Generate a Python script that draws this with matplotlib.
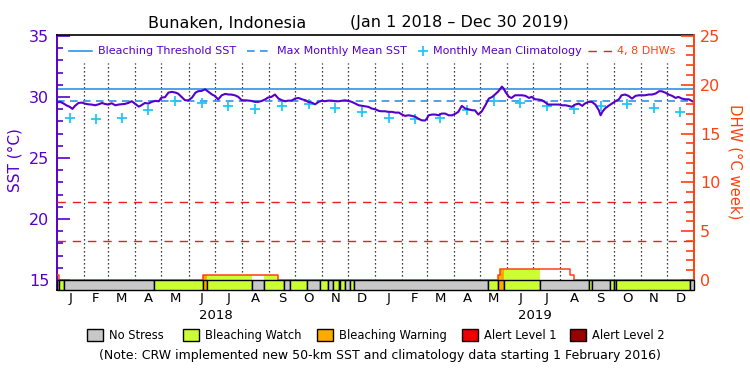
import datetime as dt
import calendar
import matplotlib
matplotlib.use("Agg")
import matplotlib.pyplot as plt
import matplotlib.dates as mdates
from matplotlib.patches import Rectangle
from matplotlib.lines import Line2D
from matplotlib.ticker import FixedLocator
import matplotlib.transforms as mtransforms

# ---------------- data ----------------
title_site = "Bunaken, Indonesia"
title_period = "(Jan 1 2018 \u2013 Dec 30 2019)"

# daily SST (sampled) : day offset from 1 Jan 2018, value in deg C
sst_day = [0, 4, 8, 11, 15, 18, 21, 25, 29, 32, 36, 40, 44, 48, 52, 55, 59, 63, 67, 71,
           74, 78, 82, 86, 90, 94, 97, 101, 105, 109, 113, 117, 120, 124, 128, 132, 136, 139,
           143, 147, 151, 155, 159, 162, 166, 170, 174, 178, 181, 185,
           189, 193, 197, 200, 204, 208, 212, 216, 220, 223, 227, 231, 235, 239, 242, 246,
           250, 254, 258, 262, 265, 269, 273, 277, 281, 285, 288, 292, 296, 300, 304, 307,
           311, 315, 319, 323, 327, 330, 334, 338, 342, 346, 350, 353, 357, 361, 365, 369,
           372, 376, 380, 384, 388, 392, 395, 399, 403, 407, 411, 414, 418, 422, 424, 426,
           430, 434, 437, 441, 445, 449, 453, 457, 460, 464, 468, 472, 476, 479, 483, 487,
           491, 495, 499, 502, 506, 510, 512, 514, 518, 521, 525, 529, 533, 537, 541, 544,
           548, 552, 556, 560, 563, 567, 571, 575, 579, 583, 586, 590, 594, 598, 602, 605,
           609, 613, 617, 621, 623, 625, 628, 632, 636, 640, 644, 647, 651, 655, 659, 663,
           667, 670, 674, 678, 682, 686, 690, 693, 697, 701, 705, 709, 712, 716, 720, 724, 728]
sst_val = [29.54, 29.60, 29.46, 29.32, 29.19, 29.02, 29.27, 29.51, 29.54, 29.46, 29.40, 29.38,
           29.32, 29.40, 29.51, 29.43, 29.38, 29.49, 29.32, 29.38, 29.40, 29.43, 29.51, 29.65,
           29.43, 29.21, 29.32, 29.51, 29.46, 29.60, 29.68, 29.65, 29.95, 29.98, 30.36, 30.42,
           30.36, 30.28, 30.01, 29.73, 29.73, 29.95, 30.36, 30.47, 30.50, 30.63, 30.42, 30.20,
           30.09, 29.80,
           30.14, 30.25, 30.20, 30.20, 30.14, 30.01, 29.73, 29.73, 29.70, 29.68, 29.60, 29.60,
           29.68, 29.81, 29.95, 30.01, 30.20, 29.87, 29.73, 29.65, 29.70, 29.70, 29.87, 29.92,
           29.81, 29.73, 29.60, 29.54, 29.40, 29.60, 29.70, 29.65, 29.70, 29.70, 29.65, 29.65,
           29.70, 29.73, 29.68, 29.60, 29.46, 29.32, 29.27, 29.24, 29.19, 29.05, 28.99, 28.86,
           28.83, 28.83, 28.78, 28.78, 28.72, 28.72, 28.58, 28.45, 28.50, 28.45, 28.37, 28.23,
           28.09, 28.07, 28.23, 28.50, 28.56, 28.56, 28.50, 28.64, 28.64, 28.50, 28.50, 28.64,
           28.78, 29.27, 29.05, 28.99, 28.91, 28.91, 28.56, 28.83, 29.32, 29.87, 30.01, 30.20,
           30.47, 30.85, 30.69, 30.42, 30.01, 29.92, 30.14, 30.14, 30.14, 30.09, 29.92, 30.01,
           29.81, 29.79, 29.73, 29.54, 29.38, 29.38, 29.38, 29.38, 29.32, 29.32, 29.27, 29.19,
           29.38, 29.46, 29.27, 29.46, 29.60, 29.60, 29.38, 28.91, 28.50, 28.78, 29.05, 29.27,
           29.46, 29.65, 29.81, 30.14, 30.20, 30.09, 29.87, 30.09, 30.14, 30.14, 30.14, 30.20,
           30.20, 30.28, 30.47, 30.47, 30.36, 30.20, 30.09, 29.92, 30.01, 29.87, 29.81, 29.81,
           29.65]

mmm_sst = 29.65
threshold_sst = 30.65
monthly_clim = [28.31, 28.22, 28.27, 28.93, 29.63, 29.48, 29.24, 28.99, 29.24, 29.40, 29.12, 28.79]
dhw_levels = [4, 8]

# degree heating weeks (step function): day offset where value starts
dhw_day = [0, 3, 168, 253, 505, 508, 588, 593, 730]
dhw_val = [0.5, 0.0, 0.5, 0.0, 0.5, 1.1, 0.55, 0.0, 0.0]

# daily alert status: segment start day offsets and level (0 no stress .. 4 alert 2)
stress_start = [0, 3, 8, 112, 168, 172, 224, 238, 260, 267, 287, 302, 311, 316, 323, 325,
                330, 336, 340, 494, 505, 512, 554, 610, 613, 634, 638, 641, 725]
stress_level = [0, 1, 0, 1, 2, 1, 0, 1, 0, 1, 0, 1, 0, 1, 0, 1,
                0, 1, 0, 1, 2, 1, 0, 1, 0, 1, 0, 1, 0]
stress_end_day = 730

stress_names = ["No Stress", "Bleaching Watch", "Bleaching Warning", "Alert Level 1", "Alert Level 2"]
stress_colors = ["#c8c8c8", "#ccff33", "#ffaa00", "#ee0000", "#990000"]
month_letters = ["J", "F", "M", "A", "M", "J", "J", "A", "S", "O", "N", "D"]
years = [2018, 2019]
note = "(Note: CRW implemented new 50-km SST and climatology data starting 1 February 2016)"

# ---------------- style ----------------
PURPLE = "#5500cc"
BLUE = "#1e88e0"
CYAN = "#1ec8f5"
ORANGE = "#ff4010"
RED = "#ee1c1c"

W, H = 750, 375
fig = plt.figure(figsize=(7.5, 3.75), dpi=100)
fig.patch.set_facecolor("white")


def fx(px):
    return px / W


def fy(py):
    return 1 - py / H


PT = 72.0 / 100.0  # points per pixel

AX_L, AX_R, AX_T, AX_B = 56.7, 694.0, 35.0, 290.0
ax = fig.add_axes([fx(AX_L), fy(AX_B), fx(AX_R) - fx(AX_L), fy(AX_T) - fy(AX_B)])
ax2 = ax.twinx()

base = mdates.date2num(dt.datetime(2018, 1, 1))


def dnum(day):
    return base + day


sst_lo, sst_hi = 14.18, 35.08
ax.set_ylim(sst_lo, sst_hi)
ax2.set_ylim((sst_lo - 15) * 1.25, (sst_hi - 15) * 1.25)
ax.set_xlim(dnum(0), mdates.date2num(dt.datetime(2020, 1, 1)))

# month starts / mids
month_starts = []
month_mids = []
for y in years:
    for m in range(1, 13):
        s = mdates.date2num(dt.datetime(y, m, 1))
        n = calendar.monthrange(y, m)[1]
        month_starts.append(s)
        month_mids.append(s + n / 2.0)

# dotted month separators
for s in month_starts[1:]:
    ax.plot([s, s], [15, 32.8], color="black", lw=0.9, linestyle=(0, (1, 2.2)), zorder=1)

# threshold lines
ax.axhline(threshold_sst, color=BLUE, lw=1.1, zorder=2)
ax.axhline(mmm_sst, color=BLUE, lw=1.1, dashes=(5, 3.5), zorder=2)

# DHW reference lines (right axis)
for lv in dhw_levels:
    ax2.axhline(lv, color=RED, lw=1.0, dashes=(6, 5), zorder=1)

# climatology
clim_x = month_mids
clim_y = monthly_clim * len(years)
ax.plot(clim_x, clim_y, linestyle="none", marker="+", markersize=7, mew=1.3, color=CYAN, zorder=3)

# SST
ax.plot([dnum(d) for d in sst_day], sst_val, color=PURPLE, lw=1.5, zorder=4)


# DHW filled by stress color
def dhw_at(day):
    v = dhw_val[0]
    for d, val in zip(dhw_day, dhw_val):
        if d <= day:
            v = val
    return v


stress_ends = stress_start[1:] + [stress_end_day]
for s, e, lv in zip(stress_start, stress_ends, stress_level):
    if lv == 0:
        continue
    pts = [s] + [d for d in dhw_day if s < d < e] + [e]
    vals = [dhw_at(p) for p in pts]
    ax2.fill_between([dnum(p) for p in pts], 0, vals, step="post",
                     color=stress_colors[lv], lw=0, zorder=2)

ax2.plot([dnum(d) for d in dhw_day], dhw_val, drawstyle="steps-post", color=ORANGE, lw=1.1, zorder=3)

# stress strip
strip_bottom = (sst_lo - 15) * 1.25
for s, e, lv in zip(stress_start, stress_ends, stress_level):
    ax2.add_patch(Rectangle((dnum(s), strip_bottom), e - s, 0 - strip_bottom,
                            facecolor=stress_colors[lv], edgecolor="black", lw=1.0, zorder=5,
                            clip_on=False))

# axes styling
for sp in ["left", "top", "bottom"]:
    ax2.spines[sp].set_visible(False)
ax.spines["right"].set_visible(False)
ax.spines["left"].set_color(PURPLE)
ax.spines["left"].set_linewidth(1.4)
ax.spines["top"].set_linewidth(1.2)
ax.spines["bottom"].set_linewidth(1.2)
ax2.spines["right"].set_color(ORANGE)
ax2.spines["right"].set_linewidth(1.4)

ax.yaxis.set_major_locator(FixedLocator([15, 20, 25, 30, 35]))
ax.yaxis.set_minor_locator(FixedLocator(list(range(15, 36))))
ax.tick_params(axis="y", which="major", direction="in", length=13 * PT, width=1.2,
               color=PURPLE, labelcolor=PURPLE, labelsize=11.5, pad=7.5 * PT)
ax.tick_params(axis="y", which="minor", direction="in", length=6 * PT, width=1.2, color=PURPLE)

ax2.yaxis.set_major_locator(FixedLocator([0, 5, 10, 15, 20, 25]))
ax2.yaxis.set_minor_locator(FixedLocator(list(range(0, 26))))
ax2.tick_params(axis="y", which="major", direction="in", length=13 * PT, width=1.2,
                color=ORANGE, labelcolor=ORANGE, labelsize=11.5, pad=6 * PT)
ax2.tick_params(axis="y", which="minor", direction="in", length=8 * PT, width=1.2, color=ORANGE)

ax.set_xticks(month_mids)
ax.set_xticklabels(month_letters * len(years))
ax.xaxis.set_minor_locator(FixedLocator([]))
ax.tick_params(axis="x", direction="out", length=0, color="black",
               labelsize=9.5, pad=1.5)

trans = mtransforms.blended_transform_factory(ax.transData, ax.transAxes)
for y in years:
    mid = (mdates.date2num(dt.datetime(y, 1, 1)) + mdates.date2num(dt.datetime(y + 1, 1, 1))) / 2
    ax.text(mid, (AX_B - 315.5) / (AX_B - AX_T), str(y), transform=trans, ha="center",
            va="center", fontsize=9.5, color="black")


# top legend (axes fraction coords)
def axx(px):
    return (px - AX_L) / (AX_R - AX_L)


ly = (AX_B - 51) / (AX_B - AX_T)
leg_fs = 8
ax.add_line(Line2D([axx(69), axx(92)], [ly, ly], transform=ax.transAxes, color=BLUE, lw=1.1))
ax.text(axx(98), ly, "Bleaching Threshold SST", transform=ax.transAxes, color=PURPLE,
        fontsize=leg_fs, va="center", ha="left")
ax.add_line(Line2D([axx(247), axx(268)], [ly, ly], transform=ax.transAxes, color=BLUE, lw=1.1,
                   dashes=(5, 3.5)))
ax.text(axx(277), ly, "Max Monthly Mean SST", transform=ax.transAxes, color=PURPLE,
        fontsize=leg_fs, va="center", ha="left")
ax.add_line(Line2D([axx(423)], [ly], transform=ax.transAxes, color=CYAN, marker="+",
                   markersize=7, mew=1.3, linestyle="none"))
ax.text(axx(433), ly, "Monthly Mean Climatology", transform=ax.transAxes, color=PURPLE,
        fontsize=leg_fs, va="center", ha="left")
ax.add_line(Line2D([axx(588), axx(612)], [ly, ly], transform=ax.transAxes, color=RED, lw=1.0,
                   dashes=(6, 5)))
ax.text(axx(617), ly, "4, 8 DHWs", transform=ax.transAxes, color=ORANGE,
        fontsize=leg_fs, va="center", ha="left")

# titles & axis labels
fig.text(fx(148), fy(23), title_site, fontsize=11.5, ha="left", va="center")
fig.text(fx(350), fy(23), title_period, fontsize=11.5, ha="left", va="center")
fig.text(fx(15), fy(160), "SST (\u00b0C)", rotation=90, color=PURPLE, fontsize=11,
         ha="center", va="center")
fig.text(fx(735), fy(162), "DHW (\u00b0C week)", rotation=270, color=ORANGE, fontsize=10.7,
         ha="center", va="center")

# bottom legend
sq_x = [87.3, 183.3, 317.3, 461.7, 569.7]
for x0, name, col in zip(sq_x, stress_names, stress_colors):
    fig.patches.append(Rectangle((fx(x0), fy(341)), fx(16), fy(329) - fy(341),
                                 transform=fig.transFigure, facecolor=col, edgecolor="black",
                                 lw=1.0))
    fig.text(fx(x0 + 22), fy(335.5), name, fontsize=8.3, ha="left", va="center")

fig.text(fx(380), fy(355.5), note, fontsize=9, ha="center", va="center")

fig.savefig("out.png", dpi=100)
